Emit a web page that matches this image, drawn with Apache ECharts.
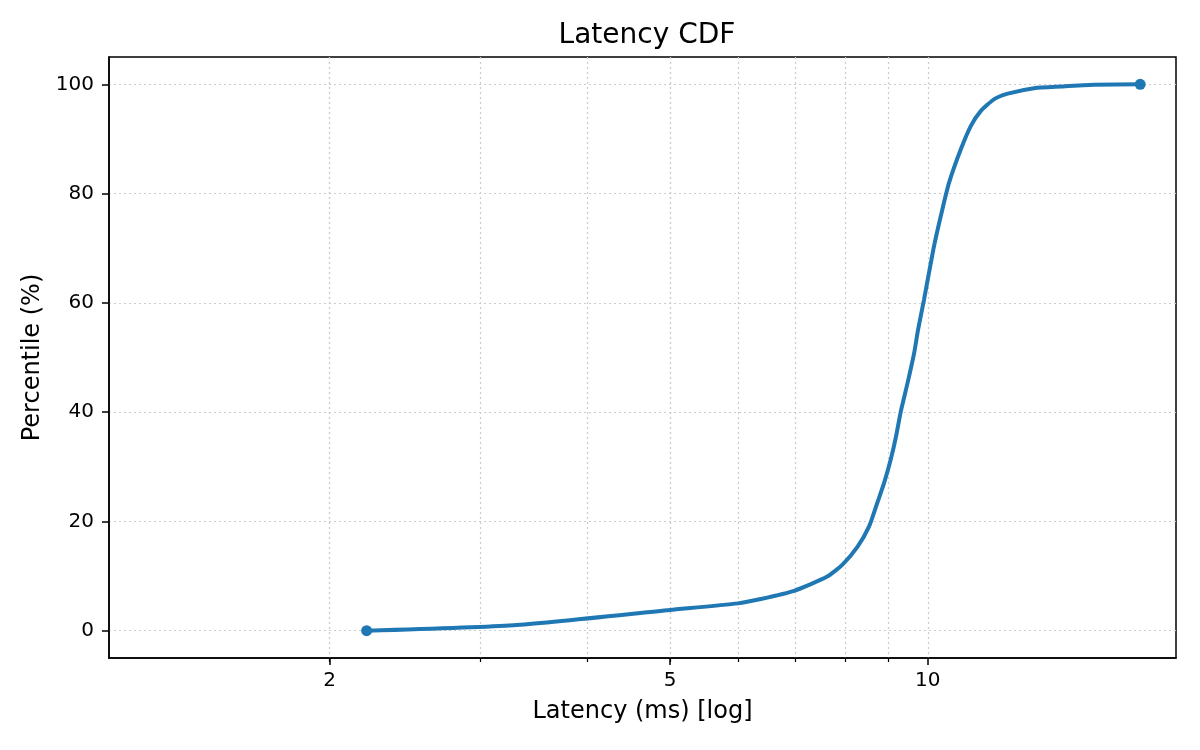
<!DOCTYPE html>
<html>
<head>
<meta charset="utf-8">
<title>Latency CDF</title>
<script src="https://cdn.jsdelivr.net/npm/echarts@6/dist/echarts.min.js"></script>
<style>
  html, body { margin: 0; padding: 0; background: #ffffff; }
  #chart { width: 1200px; height: 750px; }
</style>
</head>
<body>
<div id="chart"></div>
<script>
// ── Data ────────────────────────────────────────────────────────────────
const latencyMs = [2.21, 3.28, 5.0, 6.0, 6.38, 6.98, 7.63, 7.95, 8.28, 8.54,
                   8.73, 8.89, 9.05, 9.18, 9.30, 9.47, 9.64, 9.74, 9.90, 10.17,
                   10.40, 10.59, 10.93, 11.23, 11.53, 11.96, 12.40, 13.31, 14.31, 15.63,
                   17.71];
const percentile = [0, 1, 3.8, 5.0, 5.8, 7.3, 9.9, 12.1, 15.4, 19.1,
                    23.4, 27.0, 31.3, 35.5, 40.1, 45.3, 50.8, 55.0, 60.6, 70.4,
                    77.1, 82.0, 88.1, 92.4, 95.1, 97.3, 98.3, 99.3, 99.6, 99.9,
                    100];
const xTickValues = [2, 5, 10];
const yTickValues = [0, 20, 40, 60, 80, 100];

const FONT = 'DejaVu Sans';
const LINE_COLOR = '#1f77b4';
const GRID_LINE = { color: '#cccccc', width: 1.2, type: [2, 3] };

// only the first and last points carry a marker
const seriesData = latencyMs.map((x, i) => {
  const item = { value: [x, percentile[i]] };
  if (i === 0 || i === latencyMs.length - 1) {
    item.symbol = 'circle';
    item.symbolSize = 11;
  }
  return item;
});

const chart = echarts.init(document.getElementById('chart'), null, { renderer: 'canvas' });

chart.setOption({
  backgroundColor: '#ffffff',
  animation: false,
  textStyle: { fontFamily: FONT },
  title: {
    text: 'Latency CDF',
    left: 642,
    textAlign: 'center',
    top: 17,
    textStyle: { fontFamily: FONT, fontSize: 28, fontWeight: 'normal', color: '#000' }
  },
  grid: {
    left: 109, right: 24, top: 57, bottom: 92,
    show: true,
    borderColor: '#000',
    borderWidth: 1.5,
    backgroundColor: 'transparent'
  },
  xAxis: {
    type: 'log',
    logBase: 10,
    min: 1.105,
    max: 19.5,
    name: 'Latency (ms) [log]',
    nameLocation: 'middle',
    nameGap: 42,
    nameTextStyle: { fontFamily: FONT, fontSize: 24, color: '#000' },
    axisLine: { show: true, onZero: false, lineStyle: { color: '#000', width: 1.5 } },
    axisTick: { show: true, length: 7, customValues: xTickValues,
                lineStyle: { color: '#000', width: 1.5 } },
    minorTick: { show: true, splitNumber: 9, length: 4,
                 lineStyle: { color: '#000', width: 1.2 } },
    axisLabel: { customValues: xTickValues, margin: 13, fontFamily: FONT,
                 fontSize: 20, color: '#000' },
    splitLine: { show: true, lineStyle: GRID_LINE },
    minorSplitLine: { show: true, lineStyle: GRID_LINE }
  },
  yAxis: {
    type: 'value',
    min: -5,
    max: 105,
    name: 'Percentile (%)',
    nameLocation: 'middle',
    nameRotate: 90,
    nameGap: 64,
    nameTextStyle: { fontFamily: FONT, fontSize: 24, color: '#000' },
    axisLine: { show: true, onZero: false, lineStyle: { color: '#000', width: 1.5 } },
    axisTick: { show: true, length: 7, customValues: yTickValues,
                lineStyle: { color: '#000', width: 1.5 } },
    axisLabel: { customValues: yTickValues, margin: 15, fontFamily: FONT,
                 fontSize: 20, color: '#000' },
    splitLine: { show: true, lineStyle: GRID_LINE }
  },
  series: [{
    type: 'line',
    data: seriesData,
    symbol: 'none',
    smooth: 0.2,
    lineStyle: { color: LINE_COLOR, width: 4 },
    itemStyle: { color: LINE_COLOR }
  }]
});
</script>
</body>
</html>
